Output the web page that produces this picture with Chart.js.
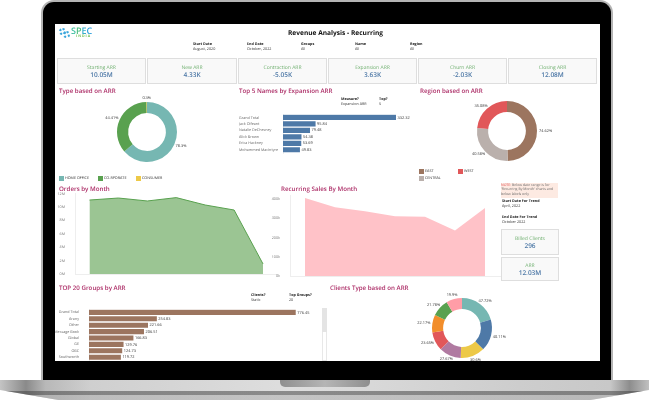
<!DOCTYPE html>
<html>
<head>
<meta charset="utf-8">
<title>Revenue Analysis - Recurring</title>
<script src="https://cdn.jsdelivr.net/npm/chart.js@4"></script>
<style>
html, body { margin: 0; padding: 0; background: #fff; }
body { width: 649px; height: 400px; overflow: hidden; position: relative; font-family: "Open Sans", sans-serif; text-rendering: geometricPrecision; }
.base { position: absolute; left: 0; top: 380px; width: 649px; height: 20px; clip-path: polygon(0 0, 100% 0, 100% 50%, 91% 100%, 9% 100%, 0 50%);
    background: linear-gradient(to bottom, rgba(0,0,0,0) 0, rgba(0,0,0,0) 11px, rgba(70,70,70,.55) 11px, rgba(70,70,70,.55) 15px, rgba(170,170,170,.5) 15px),
                linear-gradient(to right, #c4c4c4 0, #8a8a8a 4%, #b8b8b8 7%, #cfcfcf 14%, #dedede 45%, #cdcdcd 80%, #c8c8c8 94%, #8d8d8d 97%, #c0c0c0 100%); }
.notch { position: absolute; left: 280px; top: 380px; width: 90px; height: 7px; border-radius: 0 0 5px 5px; background: linear-gradient(to right, #8f8f8f, #b5b5b5 50%, #8f8f8f); }
.lid { position: absolute; left: 41px; top: 0; width: 572px; height: 380px; box-sizing: border-box; background: #000; border: 2px solid #b4b4b4; border-bottom: 0; border-radius: 13px 13px 0 0; }
#screen { position: absolute; left: 55px; top: 24px; width: 545px; height: 337px; background: #fff; overflow: hidden; }
/* everything inside #screen is placed in page coords through this shift */
#page { position: absolute; left: -55px; top: -24px; width: 649px; height: 400px; filter: blur(0.3px); }
#page canvas { position: absolute; }
.t { position: absolute; white-space: nowrap; color: #333; font-size: 3.7px; line-height: 5px; }
.b { font-weight: 700; color: #222; }
.head { position: absolute; white-space: nowrap; color: #ad2f68; font-size: 6.2px; line-height: 9px; font-weight: 600; }
.card { position: absolute; box-sizing: border-box; background: #f9f9f9; border: 1px solid #dedede; text-align: center; }
.card .k { color: #70b070; font-size: 5px; line-height: 6px; margin-top: 6px; }
.card .v { color: #4e79a7; font-size: 6.5px; line-height: 7px; font-weight: 600; }
.sq { position: absolute; width: 5px; height: 5px; }
.note { position: absolute; left: 501px; top: 183px; width: 57px; height: 15px; padding-top: 0.5px; box-sizing: border-box; background: #fdeae2; font-size: 3.5px; line-height: 4.7px; color: #666; overflow: hidden; }
.gear { position: absolute; border-radius: 50%; border: 2px dotted #3aa6dc; box-sizing: border-box; }
</style>
</head>
<body>
<div class="base"></div>
<div class="notch"></div>
<div class="lid"></div>
<div id="screen"><div id="page">
    <div class="gear" style="left:59px;top:28px;width:7px;height:7px"></div>
    <div class="gear" style="left:63px;top:31px;width:7px;height:7px"></div>
    <div class="t" style="left:71px;top:26px;font-size:9px;line-height:9px;font-weight:600"><span style="color:#3fbf9f">S</span><span style="color:#4bbf7f">P</span><span style="color:#37aecb">E</span><span style="color:#2a9fdc">C</span></div>
    <div class="t" style="left:76px;top:35px;font-size:3.5px;line-height:4px;color:#6cbf4f;letter-spacing:1px;font-weight:700">INDIA</div>
    <div class="t b" style="left:288px;top:29px;font-size:6.6px;line-height:8px;color:#111">Revenue Analysis - Recurring</div>

    <div class="t b" style="left:193px;top:42px">Start Date</div><div class="t" style="left:193px;top:47px">August, 2020</div>
    <div class="t b" style="left:247px;top:42px">End Date</div><div class="t" style="left:247px;top:47px">October, 2022</div>
    <div class="t b" style="left:301px;top:42px">Groups</div><div class="t" style="left:301px;top:47px">All</div>
    <div class="t b" style="left:355px;top:42px">Name</div><div class="t" style="left:355px;top:47px">All</div>
    <div class="t b" style="left:410px;top:42px">Region</div><div class="t" style="left:410px;top:47px">All</div>

    <div class="card" style="left:57px;top:58px;width:89px;height:26px"><div class="k">Starting ARR</div><div class="v">10.05M</div></div>
    <div class="card" style="left:147px;top:58px;width:90px;height:26px"><div class="k">New ARR</div><div class="v">4.33K</div></div>
    <div class="card" style="left:238px;top:58px;width:89px;height:26px"><div class="k">Contraction ARR</div><div class="v">-5.05K</div></div>
    <div class="card" style="left:328px;top:58px;width:89px;height:26px"><div class="k">Expansion ARR</div><div class="v">3.63K</div></div>
    <div class="card" style="left:418px;top:58px;width:89px;height:26px"><div class="k">Churn ARR</div><div class="v">-2.03K</div></div>
    <div class="card" style="left:508px;top:58px;width:89px;height:26px"><div class="k">Closing ARR</div><div class="v">12.08M</div></div>

    <div class="head" style="left:59px;top:86px">Type based on ARR</div>
    <div class="head" style="left:239px;top:86px">Top 5 Names by Expansion ARR</div>
    <div class="head" style="left:420px;top:86px">Region based on ARR</div>
    <div class="head" style="left:59px;top:184px">Orders by Month</div>
    <div class="head" style="left:281px;top:184px">Recurring Sales By Month</div>
    <div class="head" style="left:59px;top:283px">TOP 20 Groups by ARR</div>
    <div class="head" style="left:330px;top:283px">Clients Type based on ARR</div>

    <canvas id="typeChart" style="left:82px;top:92px" width="130" height="80"></canvas>
    <canvas id="topNamesChart" style="left:239px;top:110px" width="180" height="52"></canvas>
    <canvas id="regionChart" style="left:442px;top:91px" width="130" height="80"></canvas>
    <canvas id="ordersChart" style="left:55px;top:188px" width="228" height="94"></canvas>
    <canvas id="salesChart" style="left:265px;top:190px" width="240" height="94"></canvas>
    <canvas id="groupsChart" style="left:55px;top:305px" width="268" height="66"></canvas>
    <canvas id="clientsChart" style="left:397px;top:288px" width="130" height="80"></canvas>

    <div class="sq" style="left:59px;top:176px;background:#76b7b2"></div><div class="t" style="left:65px;top:176px">HOME OFFICE</div>
    <div class="sq" style="left:98px;top:176px;background:#59a14f"></div><div class="t" style="left:104px;top:176px">CO-RPORATE</div>
    <div class="sq" style="left:136px;top:176px;background:#edc948"></div><div class="t" style="left:142px;top:176px">CONSUMER</div>
    <div class="sq" style="left:419px;top:169px;background:#9c755f"></div><div class="t" style="left:425px;top:169px">EAST</div>
    <div class="sq" style="left:458px;top:169px;background:#e15759"></div><div class="t" style="left:464px;top:169px">WEST</div>
    <div class="sq" style="left:419px;top:176px;background:#bab0ac"></div><div class="t" style="left:425px;top:176px">CENTRAL</div>

    <div class="t b" style="left:341px;top:97px">Measure?</div><div class="t" style="left:341px;top:102px">Expansion ARR</div>
    <div class="t b" style="left:379px;top:97px">Top?</div><div class="t" style="left:379px;top:102px">5</div>
    <div class="t b" style="left:251px;top:293px">Clients?</div><div class="t" style="left:251px;top:298px">Static</div>
    <div class="t b" style="left:289px;top:293px">Top Groups?</div><div class="t" style="left:289px;top:298px">20</div>

    <div class="note"><span style="color:#e15759">NOTE:</span> Below date range is for<br>'Recurring By Month' charts and<br>below labels only</div>
    <div class="t b" style="left:502px;top:199px">Start Date For Trend</div><div class="t" style="left:502px;top:204px">April, 2022</div>
    <div class="t b" style="left:502px;top:215px">End Date For Trend</div><div class="t" style="left:502px;top:220px">October 2022</div>
    <div class="card" style="left:501px;top:229px;width:58px;height:26px"><div class="k" style="margin-top:6px">Billed Clients</div><div class="v">296</div></div>
    <div class="card" style="left:501px;top:257px;width:58px;height:24px"><div class="k" style="margin-top:5px">ARR</div><div class="v">12.03M</div></div>

    <div style="position:absolute;left:322px;top:308px;width:5px;height:53px;box-sizing:border-box;border:1px solid #e8e8e8;background:#fff"></div>
    <div style="position:absolute;left:322px;top:308px;width:5px;height:24px;background:#e4e4e4"></div>
</div></div>

<script>
const typeLabels = ['HOME OFFICE', 'CO-RPORATE', 'CONSUMER'];
const typeValues = [78.3, 44.41, 0.3];

const regionLabels = ['EAST', 'CENTRAL', 'WEST'];
const regionValues = [74.62, 40.58, 35.08];

const clientTypeLabels = ['Type A', 'Type B', 'Type C', 'Type D', 'Type E', 'Type F', 'Type G', 'Type H'];
const clientTypeValues = [47.72, 40.11, 30.6, 27.67, 23.65, 22.17, 21.78, 19.9];

const topNames = ['Grand Total', 'Jack Olfeant', 'Natalie DeChesney', 'Alick Brown', 'Erica Hackney', 'Mohammed MacIntyre'];
const topNameValues = [332.32, 95.84, 79.48, 54.38, 53.69, 49.83];
const topNameTicks = [0, 50, 100, 150, 200, 250, 300, 350];

const months = ['Apr-22', 'May-22', 'Jun-22', 'Jul-22', 'Aug-22', 'Sep-22', 'Oct-22'];
const ordersValues = [11.04, 11.34, 10.9, 11.4, 10.3, 9.55, 1.5];
const salesValues = [405, 358, 337, 310, 308, 237, 353];

const groupNames = ['Grand Total', 'Arany', 'Other', 'Message Book', 'Global', 'GE', 'OBC', 'Southworth', 'Green'];
const groupValues = [776.45, 254.83, 221.66, 206.51, 166.83, 129.76, 124.73, 119.72, 118.4];

const typeColors = ['#76b7b2', '#59a14f', '#edc948'];
const regionColors = ['#9c755f', '#bab0ac', '#e15759'];
const clientColors = ['#76b7b2', '#4e79a7', '#edc948', '#b07aa1', '#e15759', '#f28e2b', '#59a14f', '#ff9da7'];

const smallFont = { family: '"Open Sans", sans-serif', size: 3.7 };

// small text comes out too wide on canvas unless glyphs are placed subpixel
Chart.register({
    id: 'textPrecision',
    beforeUpdate(chart) { chart.ctx.textRendering = 'geometricPrecision'; },
    beforeDraw(chart) { chart.ctx.textRendering = 'geometricPrecision'; }
});

// value text next to each mark, doughnut slices and horizontal bars
const valueLabels = {
    id: 'valueLabels',
    afterDatasetsDraw(chart) {
        const ctx = chart.ctx;
        const values = chart.data.datasets[0].data;
        ctx.save();
        ctx.font = '3.9px "Open Sans", sans-serif';
        ctx.fillStyle = '#333';
        ctx.textBaseline = 'middle';
        chart.getDatasetMeta(0).data.forEach((el, i) => {
            if (chart.config.type === 'doughnut') {
                const mid = (el.startAngle + el.endAngle) / 2;
                const text = values[i] + '%';
                const half = ctx.measureText(text).width / 2;
                ctx.textAlign = 'center';
                ctx.fillText(text,
                    el.x + Math.cos(mid) * (el.outerRadius + 2 + half),
                    el.y + Math.sin(mid) * (el.outerRadius + 4));
            } else {
                ctx.textAlign = 'left';
                ctx.fillText(values[i].toFixed(2), el.x + 1.5, el.y);
            }
        });
        ctx.restore();
    }
};

function makeDoughnut(id, labels, values, colors) {
    return new Chart(document.getElementById(id), {
        type: 'doughnut',
        data: { labels: labels, datasets: [{ data: values, backgroundColor: colors, borderWidth: 0 }] },
        options: {
            responsive: false,
            animation: false,
            cutout: '63%',
            layout: { padding: { top: 10, bottom: 10 } },
            plugins: { legend: { display: false }, tooltip: { enabled: false } }
        },
        plugins: [valueLabels]
    });
}

function makeBars(id, labels, values, color, opts) {
    return new Chart(document.getElementById(id), {
        type: 'bar',
        data: { labels: labels, datasets: [{ data: values, backgroundColor: color, barPercentage: 0.8, categoryPercentage: 1 }] },
        options: {
            indexAxis: 'y',
            responsive: false,
            animation: false,
            layout: { padding: { top: opts.top, right: opts.right } },
            plugins: { legend: { display: false }, tooltip: { enabled: false } },
            scales: {
                x: {
                    min: 0,
                    max: opts.max,
                    display: opts.showTicks,
                    afterFit: s => { s.height = opts.showTicks ? 9 : 0; },
                    afterBuildTicks: s => { if (opts.ticks) s.ticks = opts.ticks.map(v => ({ value: v })); },
                    grid: { display: false },
                    border: { display: false },
                    ticks: { font: smallFont, color: '#777', padding: 2, maxRotation: 0, autoSkip: false }
                },
                y: {
                    afterFit: s => { s.width = opts.axisWidth; },
                    grid: { display: false },
                    border: { color: '#ddd', width: 0.5 },
                    ticks: { font: smallFont, color: '#666', padding: 2, autoSkip: false, crossAlign: opts.crossAlign }
                }
            }
        },
        plugins: [valueLabels]
    });
}

function makeArea(id, values, opts) {
    return new Chart(document.getElementById(id), {
        type: 'line',
        data: {
            labels: months,
            datasets: [{
                data: values,
                fill: 'origin',
                backgroundColor: opts.fill,
                borderColor: opts.line,
                borderWidth: opts.lineWidth,
                pointRadius: 0,
                tension: 0
            }]
        },
        options: {
            responsive: false,
            animation: false,
            layout: { padding: { top: opts.top, right: opts.right } },
            plugins: { legend: { display: false }, tooltip: { enabled: false } },
            scales: {
                x: {
                    offset: true,
                    afterFit: s => { s.height = 8; },
                    grid: { display: false },
                    border: { color: '#eee' },
                    ticks: { font: smallFont, color: '#777', padding: 1, maxRotation: 0, autoSkip: false }
                },
                y: {
                    min: 0,
                    max: opts.max,
                    afterFit: s => { s.width = opts.axisWidth; },
                    grid: { display: false },
                    border: { color: '#eee' },
                    ticks: {
                        font: smallFont,
                        color: '#777',
                        padding: 2,
                        stepSize: opts.step,
                        includeBounds: false,
                        callback: v => v + opts.unit
                    }
                }
            }
        }
    });
}

makeDoughnut('typeChart', typeLabels, typeValues, typeColors);
makeDoughnut('regionChart', regionLabels, regionValues, regionColors);
makeDoughnut('clientsChart', clientTypeLabels, clientTypeValues, clientColors);

makeBars('topNamesChart', topNames, topNameValues, '#4e79a7', {
    top: 3.2, right: 17, max: 350, axisWidth: 44, showTicks: true, ticks: topNameTicks, crossAlign: 'far'
});
makeBars('groupsChart', groupNames, groupValues, '#9c755f', {
    top: 2.8, right: 21, max: 800, axisWidth: 34, showTicks: false, crossAlign: 'near'
});

makeArea('ordersChart', ordersValues, {
    fill: '#9bc593', line: '#59a14f', lineWidth: 1, max: 12, step: 2, unit: 'M', top: 5.6, right: 5.5, axisWidth: 20
});
makeArea('salesChart', salesValues, {
    fill: '#ffc2c8', line: '#ffc2c8', lineWidth: 0, max: 420, step: 100, unit: 'k', top: 5.2, right: 5, axisWidth: 25
});
</script>
</body>
</html>
